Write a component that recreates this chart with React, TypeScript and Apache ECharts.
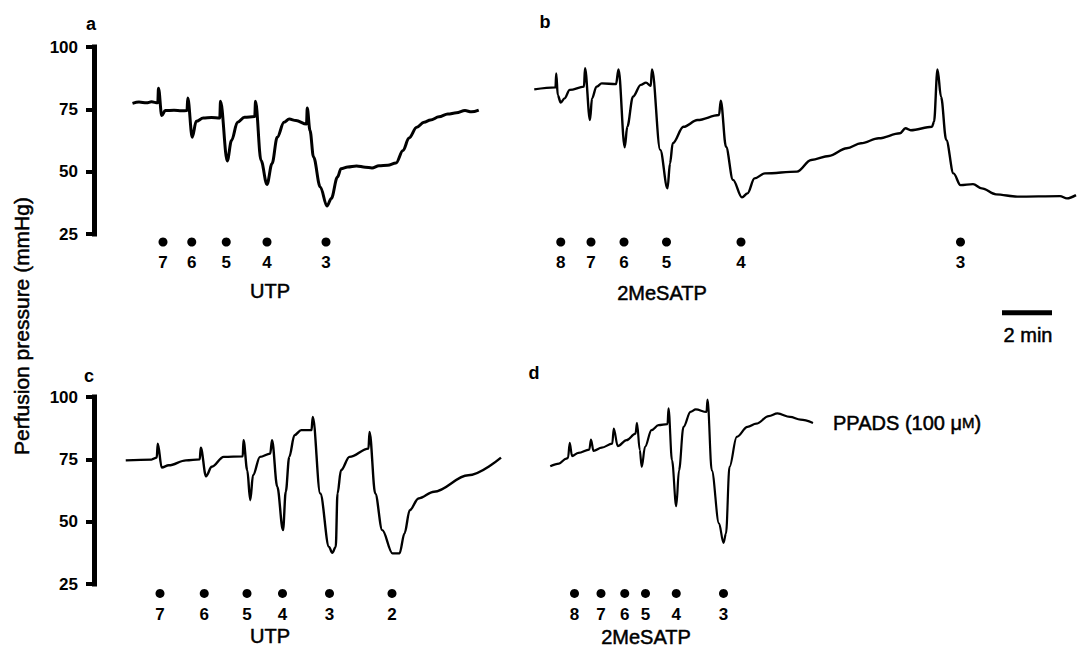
import React, { useEffect, useRef } from "react";
import * as echarts from "echarts";

// ---------- data (time in minutes from panel start, pressure in mmHg) ----------
const aTime = [1.54, 1.8, 2.1, 2.3, 2.55, 2.58, 2.71, 2.85, 3.2, 3.5, 3.72, 3.75, 3.93, 4.09, 4.37, 4.7, 5.03, 5.06, 5.33, 5.5, 5.74, 6.02, 6.43, 6.46, 6.68, 6.92, 7.12, 7.33, 7.6, 7.81, 8.08, 8.5, 8.53, 8.64, 8.78, 9.05, 9.32, 9.49, 9.74, 9.88, 10.15, 10.5, 10.85, 11.12, 11.4, 11.75, 12.08, 12.36, 12.6, 12.91, 13.2, 13.46, 13.8, 14.15, 14.5, 14.84, 15.1, 15.39];
const aPressure = [77.4, 77.9, 77.6, 78.0, 77.6, 83.5, 72.5, 74.5, 74.6, 74.4, 74.5, 79.5, 63.8, 70.2, 71.5, 71.7, 71.5, 78.2, 54.3, 62.5, 69.8, 71.8, 72.1, 78.2, 54.5, 44.9, 53.2, 63.8, 69.8, 71.1, 70.5, 69.1, 75.5, 66.5, 55.9, 43.9, 36.2, 39.2, 47.9, 51.2, 51.9, 52.3, 51.8, 51.5, 52.4, 52.6, 53.5, 58.5, 63.5, 67.8, 69.8, 70.7, 72.0, 73.1, 73.6, 74.5, 74.0, 74.7];
const aDoseTime = [2.76, 3.91, 5.29, 6.92, 9.28];
const aDoseLabel = ["7", "6", "5", "4", "3"];

const bTime = [0.29, 1.14, 1.17, 1.23, 1.35, 1.5, 1.71, 2.28, 2.32, 2.52, 2.6, 2.78, 2.99, 3.56, 3.66, 3.91, 4.01, 4.24, 4.55, 4.76, 4.95, 5.0, 5.33, 5.62, 5.72, 5.83, 6.26, 6.82, 7.68, 7.75, 7.96, 8.24, 8.6, 8.82, 9.1, 9.52, 10.8, 11.37, 12.08, 12.79, 13.36, 14.07, 14.92, 15.14, 15.35, 16.2, 16.28, 16.42, 16.56, 16.77, 17.06, 17.34, 17.84, 18.19, 18.76, 19.61, 21.32, 21.6, 21.96];
const bPressure = [83.0, 83.8, 89.4, 80.7, 77.7, 79.4, 82.8, 84.1, 91.5, 70.7, 79.4, 84.1, 85.4, 85.1, 91.0, 59.8, 68.0, 80.1, 84.8, 85.7, 84.4, 91.0, 58.7, 43.3, 53.3, 61.4, 68.0, 70.7, 72.7, 78.5, 60.0, 46.7, 39.7, 41.3, 47.3, 49.3, 50.0, 54.7, 56.3, 59.4, 61.4, 63.4, 65.4, 67.4, 66.6, 68.0, 70.0, 91.0, 80.1, 62.7, 49.3, 44.6, 45.0, 43.3, 40.9, 40.0, 40.2, 39.3, 40.6];
const bDoseTime = [1.35, 2.56, 3.88, 5.58, 8.56, 17.34];
const bDoseLabel = ["8", "7", "6", "5", "4", "3"];

const cTime = [1.27, 2.3, 2.51, 2.55, 2.71, 2.99, 3.68, 4.23, 4.27, 4.48, 4.71, 5.19, 5.95, 5.98, 6.13, 6.25, 6.36, 6.64, 7.05, 7.12, 7.33, 7.56, 7.67, 7.81, 8.02, 8.29, 8.7, 8.75, 9.05, 9.4, 9.53, 9.67, 9.74, 9.88, 10.22, 10.98, 11.02, 11.25, 11.53, 11.94, 12.22, 12.42, 12.63, 12.98, 13.6, 14.97, 16.28];
const cPressure = [74.6, 74.9, 75.7, 81.3, 71.7, 72.6, 74.6, 75.0, 79.7, 68.2, 72.0, 76.0, 76.2, 82.7, 70.6, 58.6, 68.6, 76.0, 77.3, 82.7, 64.0, 46.6, 62.0, 76.0, 84.7, 86.7, 86.7, 92.0, 61.3, 39.9, 37.5, 39.9, 61.3, 70.6, 76.0, 79.3, 86.0, 61.3, 46.6, 37.3, 37.3, 45.3, 54.6, 59.3, 62.0, 68.6, 75.7];
const cDoseTime = [2.64, 4.41, 6.12, 7.54, 9.42, 11.92];
const cDoseLabel = ["7", "6", "5", "4", "3", "2"];

const dTime = [0.93, 1.28, 1.57, 1.64, 1.71, 1.8, 2.06, 2.49, 2.56, 2.66, 2.99, 3.41, 3.47, 3.63, 3.98, 4.34, 4.4, 4.51, 4.59, 4.72, 4.98, 5.26, 5.62, 5.66, 5.8, 5.97, 6.08, 6.26, 6.54, 6.75, 7.18, 7.22, 7.39, 7.68, 7.86, 7.96, 8.1, 8.39, 8.82, 9.17, 9.67, 10.02, 10.52, 10.94, 11.44];
const dPressure = [72.2, 73.3, 75.3, 75.6, 81.6, 76.3, 77.6, 78.9, 82.9, 78.4, 79.7, 81.3, 87.3, 80.3, 82.7, 85.3, 89.6, 78.7, 72.0, 80.0, 86.7, 88.7, 89.1, 95.4, 74.6, 56.2, 70.6, 88.0, 94.0, 95.0, 94.0, 99.0, 70.6, 49.3, 41.5, 45.3, 72.0, 84.0, 88.0, 89.3, 92.3, 93.4, 92.0, 90.9, 89.6];
const dDoseTime = [1.9, 2.96, 3.91, 4.74, 5.97, 7.86];
const dDoseLabel = ["8", "7", "6", "5", "4", "3"];

const yTicks = [25, 50, 75, 100];
const doseLevelTop = 21.8;
const doseLevelBottom = 21.2;
const scaleBarStart = 19.0;
const scaleBarLength = 2; // minutes
const scaleBarLevel = -6.6;

const FONT = '"Liberation Sans", Arial, Helvetica, sans-serif';

function pairs(t: number[], v: number[]) {
  return t.map((x, i) => [x, v[i]]);
}

export default function App() {
  const ref = useRef<HTMLDivElement>(null);

  useEffect(() => {
    document.body.style.margin = "0";
    if (!ref.current) return;
    const chart = echarts.init(ref.current, null, { renderer: "svg" });

    const grids = [
      { left: 94, top: 47, width: 425, height: 187 },
      { left: 527, top: 47, width: 550, height: 187 },
      { left: 94, top: 397, width: 425, height: 187 },
      { left: 527, top: 397, width: 550, height: 187 },
    ];
    const xMax = [17, 22, 17, 22];

    const xAxes = grids.map((_, i) => ({
      type: "value",
      gridIndex: i,
      min: 0,
      max: xMax[i],
      show: false,
    }));

    const yAxes = grids.map((_, i) => ({
      type: "value",
      gridIndex: i,
      min: yTicks[0],
      max: yTicks[yTicks.length - 1],
      interval: 25,
      show: i === 0 || i === 2,
      axisLine: { show: true, lineStyle: { color: "#000", width: 5, cap: "square" } },
      axisTick: { show: true, length: 8, lineStyle: { color: "#000", width: 4 } },
      axisLabel: {
        color: "#000",
        fontSize: 17,
        fontWeight: "bold",
        fontFamily: FONT,
        margin: 16,
      },
      splitLine: { show: false },
    }));

    const traceSeries = (idx: number, t: number[], v: number[], w: number, extra: any = {}) => ({
      type: "line",
      xAxisIndex: idx,
      yAxisIndex: idx,
      data: pairs(t, v),
      showSymbol: false,
      smooth: 0.35,
      smoothMonotone: "x",
      lineStyle: { color: "#000", width: w, join: "round" },
      silent: true,
      ...extra,
    });

    const doseSeries = (idx: number, t: number[], labels: string[], level: number) => ({
      type: "scatter",
      xAxisIndex: idx,
      yAxisIndex: idx,
      clip: false,
      symbol: "circle",
      symbolSize: 9,
      itemStyle: { color: "#000", opacity: 1 },
      silent: true,
      data: t.map((x, i) => ({ name: labels[i], value: [x, level] })),
      label: {
        show: true,
        position: "bottom",
        distance: 8,
        formatter: "{b}",
        color: "#000",
        opacity: 1,
        fontSize: 17,
        fontWeight: "bold",
        fontFamily: FONT,
      },
    });

    const textEl = (text: string, x: number, y: number, size: number, weight = "normal", extra: any = {}, stroke = 0) => ({
      type: "text",
      x,
      y,
      silent: true,
      ...extra,
      style: {
        text,
        fill: "#000",
        stroke: stroke > 0 ? "#000" : undefined,
        lineWidth: stroke,
        font: `${weight} ${size}px ${FONT}`,
        textAlign: "center",
        textVerticalAlign: "middle",
      },
    });

    chart.setOption({
      animation: false,
      backgroundColor: "#fff",
      grid: grids,
      xAxis: xAxes,
      yAxis: yAxes,
      series: [
        traceSeries(0, aTime, aPressure, 3),
        traceSeries(1, bTime, bPressure, 2.4),
        traceSeries(2, cTime, cPressure, 2.4),
        traceSeries(3, dTime, dPressure, 2.2, {
          endLabel: {
            show: true,
            distance: 20,
            formatter: "PPADS (100 μ{s|M})",
            color: "#000",
            fontSize: 20,
            fontFamily: FONT,
            textBorderColor: "#000",
            textBorderWidth: 0.5,
            rich: { s: { fontSize: 15, fontFamily: FONT, color: "#000", textBorderColor: "#000", textBorderWidth: 0.5 } },
          },
        }),
        doseSeries(0, aDoseTime, aDoseLabel, doseLevelTop),
        doseSeries(1, bDoseTime, bDoseLabel, doseLevelTop),
        doseSeries(2, cDoseTime, cDoseLabel, doseLevelBottom),
        doseSeries(3, dDoseTime, dDoseLabel, doseLevelBottom),
        {
          type: "line",
          xAxisIndex: 1,
          yAxisIndex: 1,
          clip: false,
          showSymbol: false,
          silent: true,
          data: [
            [scaleBarStart, scaleBarLevel],
            [scaleBarStart + scaleBarLength, scaleBarLevel],
          ],
          lineStyle: { color: "#000", width: 5, cap: "butt" },
        },
      ],
      graphic: [
        textEl("a", 91, 24, 18, "bold"),
        textEl("b", 545, 22, 18, "bold"),
        textEl("c", 89, 376, 18, "bold"),
        textEl("d", 534, 373, 18, "bold"),
        textEl("Perfusion pressure (mmHg)", 21, 326, 21, "normal", { rotation: Math.PI / 2 }, 0.5),
        textEl("UTP", 270, 291, 20, "normal", {}, 0.5),
        textEl("2MeSATP", 662, 293, 20, "normal", {}, 0.5),
        textEl("UTP", 270, 636, 20, "normal", {}, 0.5),
        textEl("2MeSATP", 646, 637, 20, "normal", {}, 0.5),
        textEl("2 min", 1028, 335, 20, "normal", {}, 0.5),
      ],
    });

    return () => chart.dispose();
  }, []);

  return <div ref={ref} style={{ width: 1077, height: 647 }} />;
}
